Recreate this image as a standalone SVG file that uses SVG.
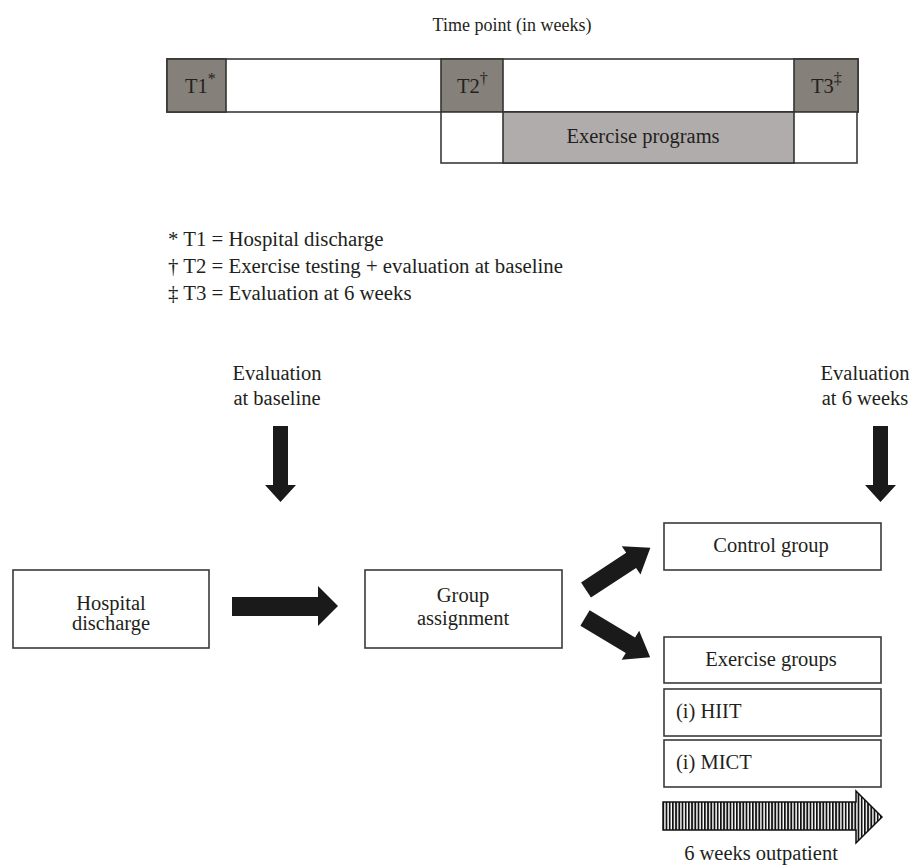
<svg xmlns="http://www.w3.org/2000/svg" width="910" height="865" viewBox="0 0 910 865">
<style>
text{font-family:"Liberation Serif","Times New Roman",serif;font-size:20.5px;fill:#231f20}
.c{text-anchor:middle}
.title{font-size:18px}
.leg{font-size:20.8px}
.box{fill:#fff;stroke:#3a3a3a;stroke-width:1.6}
.tp{fill:#858079;stroke:#333;stroke-width:1.6}
.ep{fill:#b0acab;stroke:#333;stroke-width:1.6}
.arr{fill:#1a1a1a}
.sup{font-size:16px}
</style>
<defs>
<pattern id="stripes" patternUnits="userSpaceOnUse" width="3.2" height="10">
<rect width="3.2" height="10" fill="#fff"/>
<rect width="1.8" height="10" fill="#111"/>
</pattern>
</defs>
<rect width="910" height="865" fill="#fff"/>

<g id="timeline">
<text class="c title" x="512" y="31">Time point (in weeks)</text>
<rect class="box" x="167" y="59" width="691" height="53"/>
<rect class="tp" x="167" y="59" width="59" height="53"/>
<rect class="tp" x="441" y="59" width="62" height="53"/>
<rect class="tp" x="794" y="59" width="64" height="53"/>
<rect class="box" x="441" y="112" width="416" height="51"/>
<rect class="ep" x="503" y="112" width="291" height="51"/>
<text x="185" y="93">T1<tspan class="sup" dy="-9">*</tspan></text>
<text x="457" y="93">T2<tspan class="sup" dy="-9">†</tspan></text>
<text x="811" y="93">T3<tspan class="sup" dy="-9">‡</tspan></text>
<text class="c" x="643" y="143">Exercise programs</text>
</g>

<g id="legend">
<text class="leg" x="168" y="246">* T1 = Hospital discharge</text>
<text class="leg" x="168" y="273">† T2 = Exercise testing + evaluation at baseline</text>
<text class="leg" x="168" y="300">‡ T3 = Evaluation at 6 weeks</text>
</g>

<g id="eval-baseline">
<text class="c" x="277" y="380">Evaluation</text>
<text class="c" x="277" y="405">at baseline</text>
</g>
<g id="eval-6weeks">
<text class="c" x="865" y="380">Evaluation</text>
<text class="c" x="865" y="405">at 6 weeks</text>
</g>

<g id="hospital-discharge">
<rect class="box" x="13" y="570" width="196" height="78"/>
<text class="c" x="111" y="610">Hospital</text>
<text class="c" x="111" y="630">discharge</text>
</g>

<g id="group-assignment">
<rect class="box" x="365" y="570" width="197" height="78"/>
<text class="c" x="463" y="602">Group</text>
<text class="c" x="463" y="625">assignment</text>
</g>

<g id="control-group">
<rect class="box" x="664" y="523" width="217" height="47"/>
<text class="c" x="771" y="552">Control group</text>
</g>

<g id="exercise-groups">
<rect class="box" x="664" y="637" width="217" height="46"/>
<text class="c" x="771" y="666">Exercise groups</text>
</g>
<g id="hiit">
<rect class="box" x="664" y="689" width="217" height="47"/>
<text x="676" y="718">(i) HIIT</text>
</g>
<g id="mict">
<rect class="box" x="664" y="740" width="217" height="47"/>
<text x="676" y="769">(i) MICT</text>
</g>

<g id="connectors">
<path class="arr" d="M273,426 H288 V485 H296 L280.5,502 L265,485 H273 Z"/>
<path class="arr" d="M873,426 H888 V485 H896 L880.5,502 L865,485 H873 Z"/>
<path class="arr" d="M232,597 H318 V586 L338,606 L318,626 V616 H232 Z"/>
<path class="arr" transform="translate(586,590) rotate(-33.3)" d="M0,-9 H54 V-17 L77,0 L54,17 V9 H0 Z"/>
<path class="arr" transform="translate(585,618) rotate(31)" d="M0,-9 H53 V-17 L76,0 L53,17 V9 H0 Z"/>
<path d="M663,802 H856 V791 L882,817 L856,843 V830 H663 Z" fill="url(#stripes)" stroke="#111" stroke-width="1.5"/>
<text class="c" x="761" y="860">6 weeks outpatient</text>
</g>
</svg>
